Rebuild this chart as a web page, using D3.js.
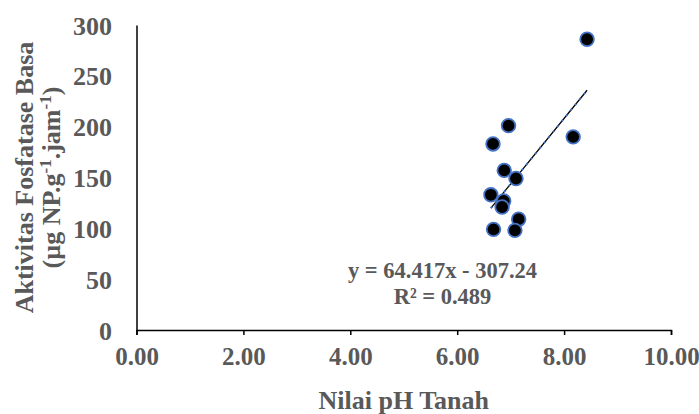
<!DOCTYPE html>
<html>
<head>
<meta charset="utf-8">
<script src="https://cdn.jsdelivr.net/npm/d3@7"></script>
<style>
  body { margin: 0; background: #fff; }
  text { font-family: "Liberation Serif", "Times New Roman", serif; font-weight: bold; fill: #595959; }
</style>
</head>
<body>
<div id="chart-area"></div>
<script>
const phValues = [8.43, 6.96, 6.67, 8.17, 6.88, 7.10, 6.63, 6.87, 6.84, 7.15, 6.68, 7.08];
const activityValues = [286, 201, 183, 190, 157, 149, 133, 127, 121, 109, 99, 98];
const xTicks = [0, 2, 4, 6, 8, 10];
const yTicks = [0, 50, 100, 150, 200, 250, 300];
const slope = 64.417;
const intercept = -307.24;
const rSquared = "0.489";

const chartSize = { width: 699, height: 414 };
const margin = { left: 136.5, right: 28, top: 25, bottom: 84 };
const width = chartSize.width - margin.left - margin.right;
const height = chartSize.height - margin.top - margin.bottom;
const labelSize = "26px";

const main = () => {
  const svg = d3
    .select("#chart-area")
    .append("svg")
    .attr("width", chartSize.width)
    .attr("height", chartSize.height);

  const g = svg
    .append("g")
    .attr("transform", `translate(${margin.left}, ${margin.top})`);

  const x = d3.scaleLinear().domain([0, 10]).range([0, width]);
  const y = d3.scaleLinear().domain([0, 300]).range([height, 0]);

  // axes
  const xAxis = d3
    .axisBottom(x)
    .tickValues(xTicks)
    .tickFormat(d3.format(".2f"))
    .tickSizeOuter(0)
    .tickSize(5)
    .tickPadding(12);
  const yAxis = d3
    .axisLeft(y)
    .tickValues(yTicks)
    .tickSize(0)
    .tickPadding(24.5);

  const gx = g
    .append("g")
    .attr("class", "x axis")
    .attr("transform", `translate(0, ${height})`)
    .call(xAxis);
  const gy = g.append("g").attr("class", "y axis").call(yAxis);

  [gx, gy].forEach(a => {
    a.select(".domain").attr("stroke", "#000").attr("stroke-width", 1.5);
    a.selectAll(".tick line").attr("stroke", "#000").attr("stroke-width", 1.5);
    a.selectAll("text")
      .style("font-family", '"Liberation Serif", serif')
      .style("font-weight", "bold")
      .style("font-size", labelSize)
      .attr("fill", "#595959");
  });
  gy.selectAll("text").attr("dy", "0.35em");
  gx.selectAll("text").attr("dy", "0.71em").style("font-size", "25px");

  // trendline
  const xMin = d3.min(phValues);
  const xMax = d3.max(phValues);
  const trend = [xMin, xMax].map(v => ({ x: v, y: slope * v + intercept }));
  const line = d3.line().x(d => x(d.x)).y(d => y(d.y));
  g.append("path")
    .attr("d", line(trend))
    .attr("stroke", "#000")
    .attr("stroke-width", 1.3)
    .attr("fill", "none");
  g.append("path")
    .attr("d", line(trend))
    .attr("stroke", "#4472C4")
    .attr("stroke-width", 2)
    .attr("stroke-dasharray", "2,5")
    .attr("fill", "none");

  // points
  g.selectAll("circle.pt")
    .data(phValues.map((v, i) => ({ x: v, y: activityValues[i] })))
    .join("circle")
    .attr("class", "pt")
    .attr("cx", d => x(d.x))
    .attr("cy", d => y(d.y))
    .attr("r", 6.8)
    .attr("fill", "#000")
    .attr("stroke", "#4472C4")
    .attr("stroke-width", 1.8);

  // equation
  g.append("text")
    .attr("x", 306)
    .attr("y", 253)
    .attr("text-anchor", "middle")
    .style("font-size", "22.5px")
    .text(`y = ${slope}x - ${Math.abs(intercept)}`);
  g.append("text")
    .attr("x", 306)
    .attr("y", 279)
    .attr("text-anchor", "middle")
    .style("font-size", "22.5px")
    .text(`R² = ${rSquared}`);

  // axis titles
  svg.append("text")
    .attr("x", margin.left + width / 2)
    .attr("y", 409)
    .attr("text-anchor", "middle")
    .style("font-size", labelSize)
    .text("Nilai pH Tanah");

  const yTitle = svg.append("g")
    .attr("transform", `translate(0, ${margin.top + height / 2}) rotate(-90)`);
  yTitle.append("text")
    .attr("x", 0)
    .attr("y", 33)
    .attr("text-anchor", "middle")
    .style("font-size", labelSize)
    .text("Aktivitas Fosfatase Basa");
  const unit = yTitle.append("text")
    .attr("x", 0)
    .attr("y", 60)
    .attr("text-anchor", "middle")
    .style("font-size", labelSize);
  unit.append("tspan").text("(µg NP.g");
  unit.append("tspan").attr("baseline-shift", "super").style("font-size", "17px").text("-1");
  unit.append("tspan").text(".jam");
  unit.append("tspan").attr("baseline-shift", "super").style("font-size", "17px").text("-1");
  unit.append("tspan").text(")");
};

window.onload = main;
</script>
</body>
</html>
